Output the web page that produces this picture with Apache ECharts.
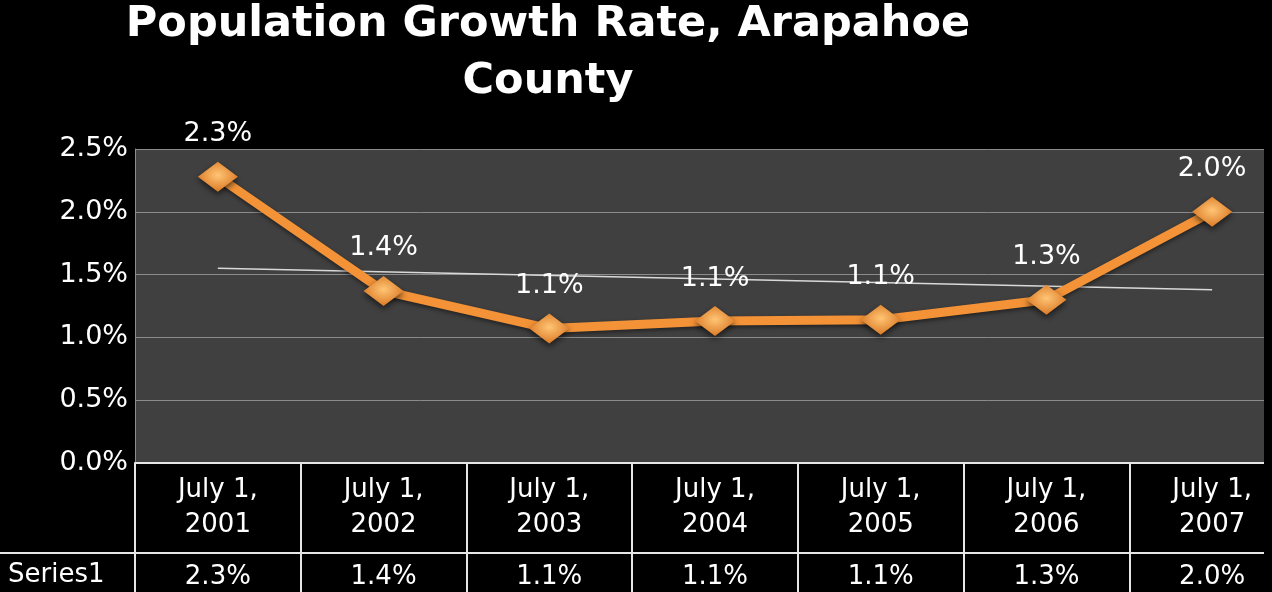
<!DOCTYPE html>
<html lang="en">
<head>
<meta charset="UTF-8">
<script src="https://cdn.jsdelivr.net/npm/echarts@6/dist/echarts.min.js"></script>
<title>Population Growth Rate, Arapahoe County</title>
<style>html,body{margin:0;padding:0;background:#000;}</style>
</head>
<body>
<div id="main" style="width:1272px;height:592px;"></div>
<script type="text/javascript">
// values (percent)
var categories = ['July 1,\n2001', 'July 1,\n2002', 'July 1,\n2003', 'July 1,\n2004', 'July 1,\n2005', 'July 1,\n2006', 'July 1,\n2007'];
var growth = [2.28, 1.37, 1.07, 1.13, 1.14, 1.30, 2.00];
// linear trendline end points as drawn in the original
var trend = [1.55, '-', '-', '-', '-', '-', 1.38];
var rowName = 'Series1';
var titleText = 'Population Growth Rate, Arapahoe\nCounty';

var FONT = 'DejaVu Sans';
function pct(v) { return Number(v).toFixed(1) + '%'; }
var tableRow = growth.map(pct);

var myChart = echarts.init(document.getElementById('main'));
var option = {
    backgroundColor: '#000',
    animation: false,
    title: {
        text: titleText,
        left: 548,
        top: -4,
        padding: 0,
        textAlign: 'center',
        textStyle: { color: '#fff', fontFamily: FONT, fontWeight: 'bold', fontSize: 43, lineHeight: 57 }
    },
    // the original plot runs past the right edge of the picture
    grid: {
        left: 135, width: 1160, top: 149, bottom: 129,
        outerBoundsMode: 'none',
        containLabel: false,
        show: true, backgroundColor: '#404040', borderWidth: 0
    },
    xAxis: [
        {
            type: 'category',
            data: categories,
            axisLine: { show: true, lineStyle: { color: '#e6e6e6', width: 2 } },
            axisTick: { show: true, length: 135, lineStyle: { color: '#e6e6e6', width: 2 } },
            axisLabel: { color: '#fff', fontFamily: FONT, fontSize: 26, lineHeight: 35, margin: 10 }
        },
        {
            type: 'category',
            data: tableRow,
            position: 'bottom',
            offset: 90,
            axisLine: { show: false },
            axisTick: { show: false },
            axisLabel: { color: '#fff', fontFamily: FONT, fontSize: 26, margin: 11 }
        }
    ],
    yAxis: {
        type: 'value',
        min: 0, max: 2.5, interval: 0.5,
        axisLine: { show: true, lineStyle: { color: '#8c8c8c', width: 1 } },
        axisTick: { show: false },
        splitLine: { lineStyle: { color: '#8c8c8c', width: 1 } },
        axisLabel: { formatter: pct, color: '#fff', fontFamily: FONT, fontSize: 27, margin: 7 }
    },
    series: [
        {
            name: 'Trend',
            type: 'line',
            data: trend,
            connectNulls: true,
            symbol: 'none',
            silent: true,
            z: 1,
            lineStyle: { color: '#d9d9d9', width: 1.5 }
        },
        {
            name: rowName,
            type: 'line',
            data: growth,
            z: 3,
            symbol: 'diamond',
            symbolSize: [40, 30],
            lineStyle: { color: '#F39237', width: 9, shadowColor: 'rgba(0,0,0,0.5)', shadowBlur: 4, shadowOffsetY: 2 },
            itemStyle: {
                color: {
                    type: 'radial', x: 0.5, y: 0.45, r: 0.6,
                    colorStops: [{ offset: 0, color: '#FFC575' }, { offset: 1, color: '#D8731E' }]
                },
                shadowColor: 'rgba(0,0,0,0.6)', shadowBlur: 6, shadowOffsetY: 3
            },
            label: {
                show: true, position: 'top', distance: 14,
                formatter: function (p) { return pct(p.value); },
                color: '#fff', fontFamily: FONT, fontSize: 27
            }
        }
    ],
    graphic: [
        { type: 'line', shape: { x1: 0, y1: 553, x2: 1272, y2: 553 }, style: { stroke: '#e6e6e6', lineWidth: 2 }, z: 50 },
        { type: 'text', left: 8, top: 562, style: { text: rowName, fill: '#fff', font: '26px "DejaVu Sans"' }, z: 50 },
        { type: 'rect', shape: { x: 1264, y: 0, width: 8, height: 592 }, style: { fill: '#000' }, z: 100 }
    ]
};
myChart.setOption(option);
</script>
</body>
</html>
